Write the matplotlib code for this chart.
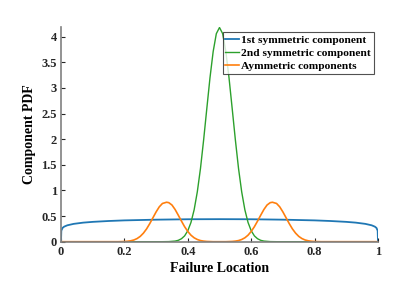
import matplotlib
matplotlib.use("Agg")
import matplotlib.pyplot as plt

# ---- data ----
blue_x = [0.0, 0.0, 0.001, 0.005, 0.01, 0.02, 0.04, 0.07, 0.1, 0.15, 0.2, 0.3, 0.4, 0.5,
          0.6, 0.7, 0.8, 0.85, 0.9, 0.93, 0.96, 0.98, 0.99, 0.995, 0.999, 1.0, 1.0]
blue_y = [0.0, 0.0, 0.215, 0.270, 0.294, 0.320, 0.348, 0.372, 0.387, 0.404, 0.416, 0.430, 0.438, 0.440,
          0.438, 0.430, 0.416, 0.404, 0.387, 0.372, 0.348, 0.320, 0.294, 0.270, 0.215, 0.0, 0.0]

green_x = [0.0, 0.32, 0.34, 0.36, 0.37, 0.38, 0.39, 0.40, 0.41, 0.42, 0.43, 0.44, 0.45, 0.46,
           0.47, 0.48, 0.49, 0.50, 0.51, 0.52, 0.53, 0.54, 0.55, 0.56, 0.57, 0.58, 0.59,
           0.60, 0.61, 0.62, 0.63, 0.64, 0.66, 0.68, 1.0]
green_y = [0.0, 0.0, 0.002, 0.012, 0.027, 0.058, 0.114, 0.214, 0.376, 0.623, 0.973, 1.43, 1.99, 2.60,
           3.20, 3.71, 4.06, 4.18, 4.06, 3.71, 3.20, 2.60, 1.99, 1.43, 0.973, 0.623, 0.376,
           0.214, 0.114, 0.058, 0.027, 0.012, 0.002, 0.0, 0.0]

orange_x = [0.0, 0.18, 0.20, 0.21, 0.22, 0.23, 0.24, 0.25, 0.26, 0.27, 0.28, 0.29, 0.30, 0.31, 0.32,
            0.333, 0.34, 0.35, 0.36, 0.37, 0.38, 0.39, 0.40, 0.41, 0.42, 0.43, 0.44, 0.45, 0.46, 0.48,
            0.52, 0.54, 0.55, 0.56, 0.57, 0.58, 0.59, 0.60, 0.61, 0.62, 0.63, 0.64, 0.65, 0.66,
            0.667, 0.68, 0.69, 0.70, 0.71, 0.72, 0.73, 0.74, 0.75, 0.76, 0.77, 0.78, 0.79, 0.80, 0.82, 1.0]
orange_y = [0.0, 0.0, 0.0039, 0.0086, 0.0176, 0.0338, 0.0613, 0.104, 0.167, 0.250, 0.353, 0.467, 0.581, 0.680, 0.746,
            0.770, 0.762, 0.716, 0.628, 0.517, 0.402, 0.292, 0.200, 0.127, 0.076, 0.043, 0.022, 0.011, 0.005, 0.0,
            0.0, 0.005, 0.011, 0.022, 0.043, 0.076, 0.127, 0.200, 0.292, 0.402, 0.517, 0.628, 0.716, 0.762,
            0.770, 0.746, 0.680, 0.581, 0.467, 0.353, 0.250, 0.167, 0.104, 0.0613, 0.0338, 0.0176, 0.0086, 0.0039, 0.0, 0.0]

labels = ["1st symmetric component", "2nd symmetric component", "Aymmetric components"]
x_ticks = [0, 0.2, 0.4, 0.6, 0.8, 1]
x_ticklabels = ["0", "0.2", "0.4", "0.6", "0.8", "1"]
y_ticks = [0, 0.5, 1, 1.5, 2, 2.5, 3, 3.5, 4]
y_ticklabels = ["0", "0.5", "1", "1.5", "2", "2.5", "3", "3.5", "4"]

plt.rcParams['font.family'] = ['Liberation Serif', 'DejaVu Serif']
plt.rcParams['font.weight'] = 'bold'

fig = plt.figure(figsize=(4.15, 2.86), dpi=100)
ax = fig.add_axes([61/415, (286-241.7)/286, 317/415, (241.7-27)/286])

ax.plot(blue_x, blue_y, color='#1f77b4', lw=1.3, label=labels[0])
ax.plot(green_x, green_y, color='#2ca02c', lw=1.0, label=labels[1])
ax.plot(orange_x, orange_y, color='#ff7f0e', lw=1.2, label=labels[2])

ax.set_xlim(0, 1)
ax.set_ylim(0, 4.19)
ax.set_xticks(x_ticks)
ax.set_xticklabels(x_ticklabels)
ax.set_yticks(y_ticks)
ax.set_yticklabels(y_ticklabels)
ax.tick_params(direction='in', length=3, width=0.8, labelsize=9, colors='#262626', pad=3)
for lab in ax.get_xticklabels() + ax.get_yticklabels():
    lab.set_fontweight('bold')

for s in ['top', 'right']:
    ax.spines[s].set_visible(False)
for s in ['left', 'bottom']:
    ax.spines[s].set_color('#808080')
    ax.spines[s].set_linewidth(1.2)

ax.set_xlabel("Failure Location", fontsize=10, fontweight='bold', labelpad=3)
ax.set_ylabel("Component PDF", fontsize=10, fontweight='bold', labelpad=4)

leg = ax.legend(loc='upper right', bbox_to_anchor=(374/415, (286-31.7)/286), bbox_transform=fig.transFigure,
                fontsize=8.2, frameon=True, fancybox=False, handlelength=1.2, handletextpad=0.2,
                borderpad=0.25, labelspacing=0.3, borderaxespad=0)
leg.get_frame().set_edgecolor('#262626')
leg.get_frame().set_linewidth(0.8)
for t in leg.get_texts():
    t.set_fontweight('bold')

fig.savefig("out.png", dpi=100)
